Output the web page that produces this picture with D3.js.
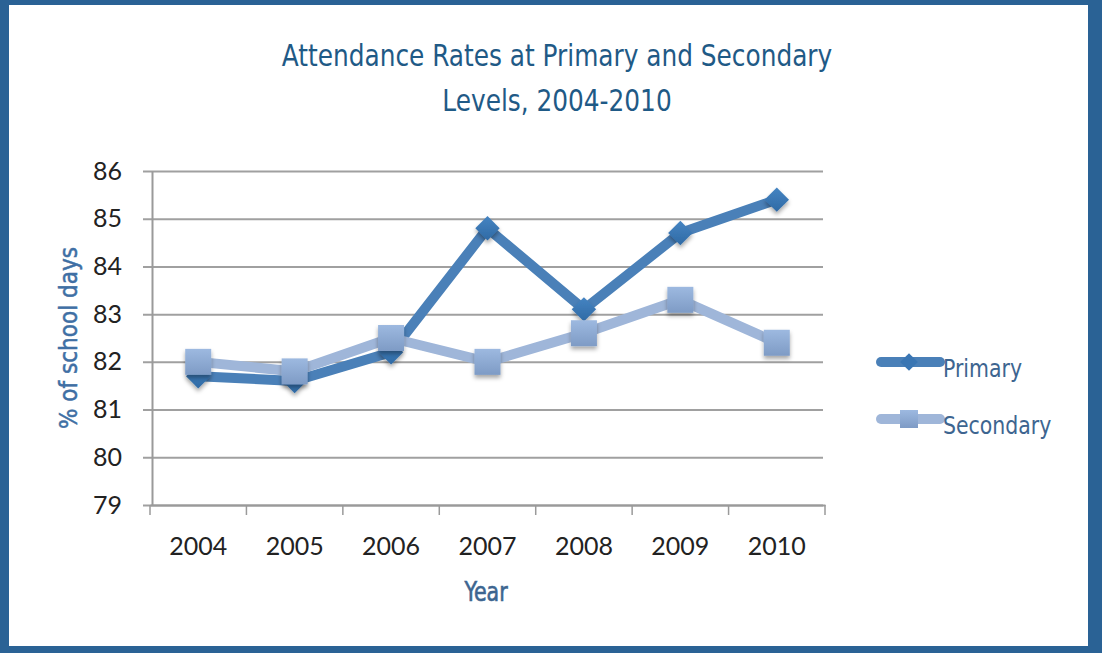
<!DOCTYPE html>
<html>
<head>
<meta charset="utf-8">
<script src="https://cdn.jsdelivr.net/npm/d3@7"></script>
<style>
  html, body { margin: 0; padding: 0; background: #2a6295; }
  svg { display: block; }
  .tick text { fill: #222; }
</style>
</head>
<body>
<script>
// Chart data
var years = ["2004", "2005", "2006", "2007", "2008", "2009", "2010"];
var primary = [81.7, 81.6, 82.2, 84.8, 83.1, 84.7, 85.4];
var secondary = [82.0, 81.8, 82.5, 82.0, 82.6, 83.3, 82.4];
var yTicks = [79, 80, 81, 82, 83, 84, 85, 86];
var seriesNames = ["Primary", "Secondary"];

var svgWidth = 1102;
var svgHeight = 653;
var narrow = "'DejaVu Sans Condensed', 'DejaVu Sans', sans-serif";

var svg = d3.select("body")
  .append("svg")
  .attr("width", svgWidth)
  .attr("height", svgHeight);

// white panel inside the blue frame
svg.append("rect")
  .attr("x", 9).attr("y", 5)
  .attr("width", 1079).attr("height", 641)
  .attr("fill", "#fff");

var defs = svg.append("defs");
var sqGrad = defs.append("linearGradient").attr("id", "sqGrad")
  .attr("x1", 0).attr("y1", 0).attr("x2", 0).attr("y2", 1);
sqGrad.append("stop").attr("offset", "0%").attr("stop-color", "#9db9e0");
sqGrad.append("stop").attr("offset", "100%").attr("stop-color", "#7e9bc5");
var dmGrad = defs.append("linearGradient").attr("id", "dmGrad")
  .attr("x1", 0).attr("y1", 0).attr("x2", 0).attr("y2", 1);
dmGrad.append("stop").attr("offset", "0%").attr("stop-color", "#4584c2");
dmGrad.append("stop").attr("offset", "100%").attr("stop-color", "#2f6aa5");
var shadow = defs.append("filter").attr("id", "shadow")
  .attr("x", "-50%").attr("y", "-50%").attr("width", "200%").attr("height", "200%");
shadow.append("feDropShadow")
  .attr("dx", 0).attr("dy", 3).attr("stdDeviation", 2)
  .attr("flood-color", "#000").attr("flood-opacity", 0.35);

// Title (squeezed to look like a condensed face)
var title = svg.append("g")
  .attr("transform", "translate(557,0) scale(0.89,1)")
  .append("text")
  .attr("text-anchor", "middle")
  .attr("fill", "#1f5a86")
  .style("font-family", narrow)
  .style("font-size", "31px");
title.append("tspan").attr("x", 0).attr("y", 66).text("Attendance Rates at Primary and Secondary");
title.append("tspan").attr("x", 0).attr("y", 111).text("Levels, 2004-2010");

// Scales
var x = d3.scaleBand().domain(years).range([150, 825]);
var y = d3.scaleLinear().domain([79, 86]).range([505, 171]);

// Gridlines
svg.append("g")
  .attr("transform", "translate(143,0)")
  .call(d3.axisRight(y).tickValues(yTicks).tickSize(680).tickFormat(""))
  .call(g => g.select(".domain").remove())
  .call(g => g.selectAll("line").attr("stroke", "#a0a0a0").attr("stroke-width", 2));

// Y axis
svg.append("g")
  .attr("transform", "translate(152,0)")
  .call(d3.axisLeft(y).tickValues(yTicks).tickSize(0).tickPadding(30).tickFormat(d3.format("d")))
  .call(g => g.select(".domain").attr("stroke", "#9a9a9a").attr("stroke-width", 2))
  .call(g => g.selectAll("text")
    .style("font-family", "Lato, 'Open Sans', sans-serif")
    .style("font-size", "25px"));

// X axis
var xAxis = svg.append("g")
  .attr("transform", "translate(0,505)")
  .call(d3.axisBottom(x).tickSize(0).tickPadding(32))
  .call(g => g.select(".domain").attr("stroke", "#9a9a9a").attr("stroke-width", 2))
  .call(g => g.selectAll("text")
    .style("font-family", "Lato, 'Open Sans', sans-serif")
    .style("font-size", "25px"));
// band boundary tick marks
var bounds = d3.range(years.length + 1).map(i => 150 + i * x.step());
xAxis.selectAll("line.bound")
  .data(bounds)
  .enter().append("line")
  .attr("class", "bound")
  .attr("x1", d => d).attr("x2", d => d)
  .attr("y1", 0).attr("y2", 10)
  .attr("stroke", "#9a9a9a").attr("stroke-width", 1.5);

// Axis titles
svg.append("g")
  .attr("transform", "translate(77,338) rotate(-90)")
  .append("text")
  .attr("text-anchor", "middle")
  .attr("fill", "#3f6fa4")
  .style("font-family", narrow)
  .style("font-size", "24px")
  .style("stroke", "#3f6fa4")
  .style("stroke-width", 0.5)
  .text("% of school days");

svg.append("g")
  .attr("transform", "translate(486,601) scale(0.88,1)")
  .append("text")
  .attr("text-anchor", "middle")
  .attr("fill", "#3d6590")
  .style("font-family", narrow)
  .style("font-size", "26px")
  .style("stroke", "#3d6590")
  .style("stroke-width", 0.6)
  .text("Year");

// Lines
var line = d3.line()
  .x((d, i) => x(years[i]) + x.bandwidth() / 2)
  .y(d => y(d));

svg.append("path")
  .attr("d", line(primary))
  .attr("fill", "none")
  .attr("stroke", "#4a80b8")
  .attr("stroke-width", 10)
  .attr("stroke-linejoin", "round");

svg.selectAll("path.dm")
  .data(primary)
  .enter().append("path")
  .attr("class", "dm")
  .attr("d", d3.symbol().type(d3.symbolDiamond2).size(380))
  .attr("transform", (d, i) => `translate(${x(years[i]) + x.bandwidth() / 2},${y(d)})`)
  .attr("fill", "url(#dmGrad)")
  .attr("filter", "url(#shadow)");

svg.append("path")
  .attr("d", line(secondary))
  .attr("fill", "none")
  .attr("stroke", "#9fb6d9")
  .attr("stroke-width", 10)
  .attr("stroke-linejoin", "round");

svg.selectAll("rect.sq")
  .data(secondary)
  .enter().append("rect")
  .attr("class", "sq")
  .attr("x", (d, i) => x(years[i]) + x.bandwidth() / 2 - 13)
  .attr("y", d => y(d) - 13)
  .attr("width", 26).attr("height", 26)
  .attr("fill", "url(#sqGrad)")
  .attr("filter", "url(#shadow)");

// Legend
var legend = svg.append("g");
var legendY = [362, 419];
legend.selectAll("line")
  .data(seriesNames)
  .enter().append("line")
  .attr("x1", 881).attr("x2", 940)
  .attr("y1", (d, i) => legendY[i]).attr("y2", (d, i) => legendY[i])
  .attr("stroke", (d, i) => i === 0 ? "#4a80b8" : "#9fb6d9")
  .attr("stroke-width", 10)
  .attr("stroke-linecap", "round");
legend.append("path")
  .attr("d", d3.symbol().type(d3.symbolDiamond2).size(200))
  .attr("transform", `translate(909,${legendY[0]})`)
  .attr("fill", "#3a76b3");
legend.append("rect")
  .attr("x", 900).attr("y", legendY[1] - 9)
  .attr("width", 18).attr("height", 18)
  .attr("fill", "url(#sqGrad)");
legend.selectAll("g.item")
  .data(seriesNames)
  .enter().append("g")
  .attr("class", "item")
  .attr("transform", (d, i) => `translate(943,${legendY[i] + 15}) scale(0.91,1)`)
  .append("text")
  .attr("fill", "#3d6590")
  .style("font-family", narrow)
  .style("font-size", "25px")
  .text(d => d);
</script>
</body>
</html>
